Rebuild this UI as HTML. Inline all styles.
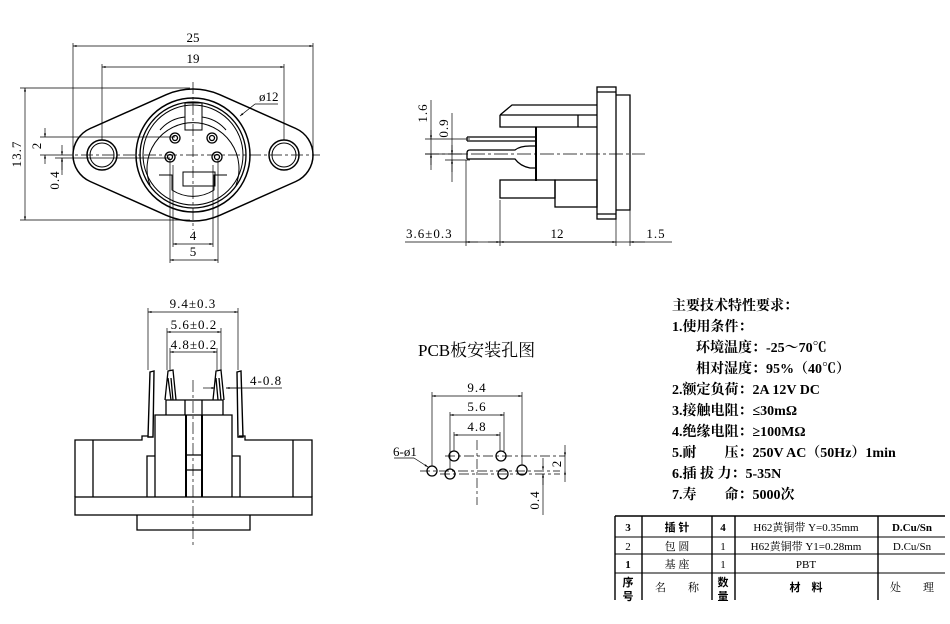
<!DOCTYPE html>
<html><head><meta charset="utf-8"><style>
html,body{margin:0;padding:0;background:#fff;}
svg{display:block;}
text{font-family:"Liberation Serif","Noto Serif CJK SC",serif;fill:#000;}
.b{font-family:"Liberation Serif","Noto Sans CJK SC",sans-serif;font-weight:bold;}
.d{letter-spacing:1px;}
</style></head><body>
<svg width="950" height="624" viewBox="0 0 950 624" xmlns="http://www.w3.org/2000/svg">
<defs>
<marker id="a" viewBox="0 0 10 10" refX="10" refY="5" markerWidth="7" markerHeight="5" orient="auto-start-reverse"><path d="M0,2 L10,5 L0,8 z" fill="#000"/></marker>
</defs>
<g stroke="#000" fill="none" stroke-width="1">
<!-- ===== Top view ===== -->
<path d="M90.2,128.5 L166.2,94.7 A66 66 0 0 1 219.8,94.7 L295.8,128.5 A29 29 0 0 1 295.8,181.5 L219.8,215.3 A66 66 0 0 1 166.2,215.3 L90.2,181.5 A29 29 0 0 1 90.2,128.5 Z" stroke-width="1.5"/>
<circle cx="102" cy="155" r="15" stroke-width="1.5"/><circle cx="102" cy="155" r="12"/>
<circle cx="284" cy="155" r="15" stroke-width="1.5"/><circle cx="284" cy="155" r="12"/>
<circle cx="193" cy="155" r="57" stroke-width="1.5"/>
<circle cx="193" cy="155" r="53" stroke-width="1.3"/>
<circle cx="193" cy="155" r="50"/>
<path d="M150,185 A46 46 0 1 1 236,185"/>
<path d="M159,175 L172,175 L172,190 A38 38 0 0 0 214,190 L214,175 L227,175"/>
<path d="M160,130 A38 38 0 0 1 185,117"/><path d="M202,117 A38 38 0 0 1 226,130"/>
<rect x="185" y="103" width="17" height="27"/>
<rect x="183" y="172" width="32" height="14"/>
<g stroke-width="1.3">
<circle cx="175" cy="138" r="5"/><circle cx="175" cy="138" r="2.5"/>
<circle cx="212" cy="138" r="5"/><circle cx="212" cy="138" r="2.5"/>
<circle cx="170" cy="157" r="5"/><circle cx="170" cy="157" r="2.5"/>
<circle cx="217" cy="157" r="5"/><circle cx="217" cy="157" r="2.5"/>
</g>
<g stroke-width="0.7">
<path d="M60,155 H320" stroke-dasharray="12,3,3,3"/>
<path d="M193,82 V230" stroke-dasharray="12,3,3,3"/>
<path d="M73,43 V150 M313,43 V150 M102,64 V140 M284,64 V140"/>
<path d="M73,46 H313" marker-start="url(#a)" marker-end="url(#a)"/>
<path d="M102,67 H284" marker-start="url(#a)" marker-end="url(#a)"/>
<path d="M20,88 H190 M20,220 H190"/>
<path d="M25,88 V220" marker-start="url(#a)" marker-end="url(#a)"/>
<path d="M40,137 H175 M40,155 H60 M55,158 H170"/>
<path d="M45,128 V137" marker-end="url(#a)"/><path d="M45,164 V155" marker-end="url(#a)"/>
<path d="M62,145 V155" marker-end="url(#a)"/><path d="M62,170 V158" marker-end="url(#a)"/><path d="M62,158 V175"/>
<path d="M170,160 V263 M218,160 V263 M173,165 V247 M213,165 V247"/>
<path d="M173,244 H213" marker-start="url(#a)" marker-end="url(#a)"/>
<path d="M170,260 H218" marker-start="url(#a)" marker-end="url(#a)"/>
<path d="M255,104 H278"/><path d="M255,104 L240,116" marker-end="url(#a)"/>
</g>
<!-- ===== Side view ===== -->
<g stroke-width="1.3">
<rect x="597" y="87" width="19" height="132"/>
<path d="M597,92 H616 M597,214 H616"/>
<path d="M616,95 H630 V210 H616"/>
<path d="M500,115 L512,105 H597 M500,115 V127 H597 M578,115 V127 M500,115 H597"/>
<path d="M536,127 V181" stroke-width="2"/>
<rect x="500" y="180" width="55" height="18"/>
<rect x="555" y="180" width="42" height="27"/>
<path d="M467,137 H536 M467,141 H536 M467,137 V141" stroke-width="1.2"/>
<path d="M467,159 H515 Q520,166 530,168 H536 M470,150 H515 Q520,146 530,146 H536 M467,153 Q467,150 470,150 M467,153 V159"/>
</g>
<g stroke-width="0.7">
<path d="M425,154 H645" stroke-dasharray="14,3,3,3"/>
<path d="M425,139 H470 M425,154 H465 M445,160 H470"/>
<path d="M431,100 V170"/><path d="M431,130 V139" marker-end="url(#a)"/><path d="M431,165 V154" marker-end="url(#a)"/>
<path d="M452,113 V182"/><path d="M452,145 V154" marker-end="url(#a)"/><path d="M452,172 V160" marker-end="url(#a)"/>
<path d="M466,160 V246 M500,200 V246 M616,219 V246 M630,210 V246"/>
<path d="M405,242 H672"/>
<path d="M466,242 H478" marker-start="url(#a)"/><path d="M488,242 H500" marker-end="url(#a)"/>
<path d="M500,242 H616" marker-start="url(#a)" marker-end="url(#a)"/>
<path d="M630,242 H645" marker-start="url(#a)"/>
</g>
<!-- ===== Front view ===== -->
<g stroke-width="1.3">
<rect x="75" y="497" width="237" height="18"/>
<path d="M137,515 V530 H250 V515"/>
<path d="M75,497 V440 H142 V436 H148 M312,497 V440 H245 V436 H239"/>
<path d="M93,440 V497 M293,440 V497"/>
<path d="M155,497 V415 H232 V497"/>
<path d="M147,497 V456 H155 M240,497 V456 H232"/>
<path d="M166,415 V400 H223 V415 M185,400 V415 M202,400 V415"/>
<path d="M186,415 V497 M202,415 V497" stroke-width="2"/>
<path d="M186,455 H202 M186,470 H202"/>
<path d="M148,437 L150,372 L154,371 L153,437 Z M238,437 L237,372 L241,371 L243,437 Z" stroke-width="1.4"/>
<path d="M165,400 L168,371 L173,370 L176,400 M168,378 L171,400 M171,378 L173,400" />
<path d="M213,400 L216,371 L221,370 L224,400 M216,378 L218,400 M219,378 L221,400"/>
</g>
<g stroke-width="0.7">
<path d="M193,380 V545" stroke-dasharray="12,3,3,3"/>
<path d="M148,308 V370 M238,308 V370 M167,328 V370 M221,328 V370 M170,348 V370 M217,348 V370"/>
<path d="M148,312 H238" marker-start="url(#a)" marker-end="url(#a)"/>
<path d="M167,332 H221" marker-start="url(#a)" marker-end="url(#a)"/>
<path d="M170,352 H217" marker-start="url(#a)" marker-end="url(#a)"/>
<path d="M203,388 H215" marker-end="url(#a)"/><path d="M240,388 H226" marker-end="url(#a)"/><path d="M226,388 H282"/>
</g>
<!-- ===== PCB holes ===== -->
<g stroke-width="1.3">
<circle cx="432" cy="471" r="5"/><circle cx="450" cy="474" r="5"/>
<circle cx="454" cy="456" r="5"/><circle cx="501" cy="456" r="5"/>
<circle cx="503" cy="474" r="5"/><circle cx="522" cy="470" r="5"/>
</g>
<g stroke-width="0.7">
<path d="M420,471 H560 M440,474 H560 M445,456 H565" stroke-dasharray="10,3,3,3"/>
<path d="M477,440 V505" stroke-dasharray="10,3,3,3"/>
<path d="M432,392 V466 M522,392 V465 M450,412 V469 M504,412 V451 M454,432 V451 M500,432 V451"/>
<path d="M432,396 H522" marker-start="url(#a)" marker-end="url(#a)"/>
<path d="M450,415 H504" marker-start="url(#a)" marker-end="url(#a)"/>
<path d="M454,435 H500" marker-start="url(#a)" marker-end="url(#a)"/>
<path d="M394,458 H414"/><path d="M414,458 L428,467" marker-end="url(#a)"/>
<path d="M565,445 V456" marker-end="url(#a)"/><path d="M565,482 V471" marker-end="url(#a)"/><path d="M565,456 V471"/>
<path d="M543,458 V470" marker-end="url(#a)"/><path d="M543,485 V474" marker-end="url(#a)"/><path d="M543,474 V515"/>
</g>
<!-- ===== Table ===== -->
<g stroke-width="1">
<path d="M615,516 H945 M615,537 H945 M615,554 H945 M615,573 H945" />
<path d="M615,516 V600 M642,516 V600 M712,516 V600 M735,516 V600 M878,516 V600" stroke-width="1.4"/>
<path d="M615,516 H945" stroke-width="1.6"/>
</g>
</g>
<!-- Texts -->
<g font-size="13">
<text x="193" y="42" text-anchor="middle">25</text>
<text x="193" y="63" text-anchor="middle">19</text>
<text x="259" y="101">ø12</text>
<text x="193" y="240" text-anchor="middle">4</text>
<text x="193" y="256" text-anchor="middle">5</text>
<text class="d" transform="translate(21,154) rotate(-90)" text-anchor="middle">13.7</text>
<text transform="translate(41,146) rotate(-90)" text-anchor="middle">2</text>
<text class="d" transform="translate(59,180) rotate(-90)" text-anchor="middle">0.4</text>
<text class="d" transform="translate(427,113) rotate(-90)" text-anchor="middle">1.6</text>
<text class="d" transform="translate(448,128) rotate(-90)" text-anchor="middle">0.9</text>
<text class="d" x="406" y="238">3.6±0.3</text>
<text x="557" y="238" text-anchor="middle">12</text>
<text class="d" x="656" y="238" text-anchor="middle">1.5</text>
<text class="d" x="193" y="308" text-anchor="middle">9.4±0.3</text>
<text class="d" x="194" y="329" text-anchor="middle">5.6±0.2</text>
<text class="d" x="194" y="349" text-anchor="middle">4.8±0.2</text>
<text class="d" x="250" y="385">4-0.8</text>
<text class="d" x="477" y="392" text-anchor="middle">9.4</text>
<text class="d" x="477" y="411" text-anchor="middle">5.6</text>
<text class="d" x="477" y="431" text-anchor="middle">4.8</text>
<text x="393" y="456">6-ø1</text>
<text transform="translate(561,464) rotate(-90)" text-anchor="middle">2</text>
<text class="d" transform="translate(539,500) rotate(-90)" text-anchor="middle">0.4</text>
</g>
<text x="418" y="356" font-size="17">PCB板安装孔图</text>
<g class="b" font-size="14">
<text x="672" y="310">主要技术特性要求：</text>
<text x="672" y="331">1.使用条件：</text>
<text x="696" y="352">环境温度：-25～70℃</text>
<text x="696" y="373">相对湿度：95%（40℃）</text>
<text x="672" y="394">2.额定负荷：2A 12V DC</text>
<text x="672" y="415">3.接触电阻：≤30mΩ</text>
<text x="672" y="436">4.绝缘电阻：≥100MΩ</text>
<text x="672" y="457">5.耐　　压：250V AC（50Hz）1min</text>
<text x="672" y="478">6.插 拔 力：5-35N</text>
<text x="672" y="499">7.寿　　命：5000次</text>
</g>
<g font-size="11">
<text x="628" y="531" text-anchor="middle" class="b">3</text>
<text x="677" y="531" text-anchor="middle" class="b">插 针</text>
<text x="723" y="531" text-anchor="middle" class="b">4</text>
<text x="806" y="531" text-anchor="middle">H62黄铜带 Y=0.35mm</text>
<text x="912" y="531" text-anchor="middle" class="b">D.Cu/Sn</text>
<text x="628" y="550" text-anchor="middle">2</text>
<text x="677" y="550" text-anchor="middle">包 圆</text>
<text x="723" y="550" text-anchor="middle">1</text>
<text x="806" y="550" text-anchor="middle">H62黄铜带 Y1=0.28mm</text>
<text x="912" y="550" text-anchor="middle">D.Cu/Sn</text>
<text x="628" y="568" text-anchor="middle" class="b">1</text>
<text x="677" y="568" text-anchor="middle">基 座</text>
<text x="723" y="568" text-anchor="middle">1</text>
<text x="806" y="568" text-anchor="middle">PBT</text>
<text x="628" y="586" text-anchor="middle" class="b">序</text>
<text x="628" y="600" text-anchor="middle" class="b">号</text>
<text x="677" y="591" text-anchor="middle">名　　称</text>
<text x="723" y="586" text-anchor="middle" class="b">数</text>
<text x="723" y="600" text-anchor="middle" class="b">量</text>
<text x="806" y="591" text-anchor="middle" class="b">材　料</text>
<text x="912" y="591" text-anchor="middle">处　　理</text>
</g>
</svg>
</body></html>
